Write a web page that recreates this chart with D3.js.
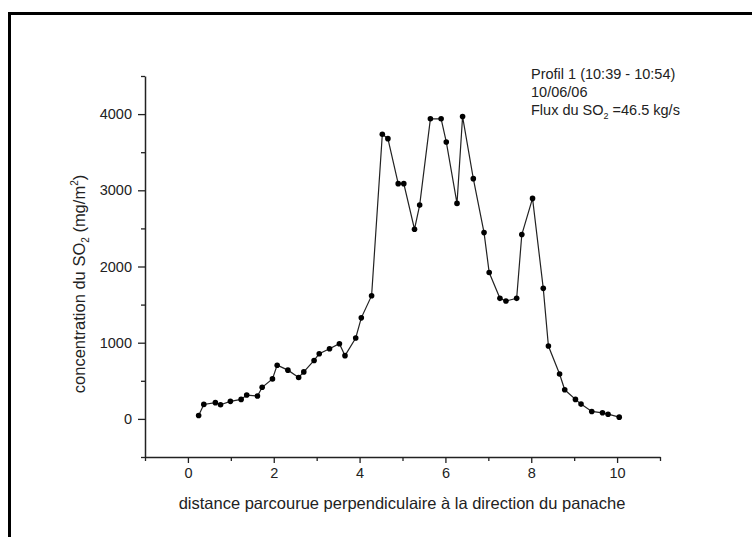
<!DOCTYPE html>
<html>
<head>
<meta charset="utf-8">
<script src="https://cdn.jsdelivr.net/npm/d3@7"></script>
<style>
  body { margin: 0; background: #fff; }
  svg { display: block; font-family: "Liberation Sans", Arial, sans-serif; }
</style>
</head>
<body>
<svg id="chart" width="752" height="537"></svg>
<script>
// distance (x) and SO2 concentration (y)
const distance = [
  0.25, 0.37, 0.64, 0.76, 0.99, 1.24, 1.37, 1.62, 1.73, 1.97,
  2.08, 2.33, 2.58, 2.70, 2.94, 3.06, 3.30, 3.53, 3.66, 3.91,
  4.04, 4.28, 4.53, 4.66, 4.90, 5.03, 5.28, 5.40, 5.65, 5.90,
  6.02, 6.27, 6.40, 6.65, 6.90, 7.02, 7.27, 7.41, 7.66, 7.78,
  8.03, 8.28, 8.40, 8.66, 8.78, 9.03, 9.16, 9.41, 9.66, 9.79,
  10.05
];
const concentration = [
  45, 190, 213, 186, 230, 256, 313, 300, 415, 525,
  705, 640, 543, 617, 767, 855, 921, 987, 830, 1062,
  1326, 1617, 3735, 3678, 3087, 3087, 2489, 2806, 3938, 3938,
  3634, 2828, 3968, 3153, 2445, 1921, 1582, 1547, 1582, 2419,
  2894, 1713, 956, 590, 382, 256, 194, 98, 80, 62,
  23
];
const xTicks = [0, 2, 4, 6, 8, 10];
const xMinor = [-1, 1, 3, 5, 7, 9, 11];
const yTicks = [0, 1000, 2000, 3000, 4000];
const yMinor = [-500, 500, 1500, 2500, 3500, 4500];
const notes = ["Profil 1 (10:39 - 10:54)", "10/06/06"];

const svg = d3.select("#chart");

// outer frame
svg.append("rect")
  .attr("x", 9.5).attr("y", 13.5)
  .attr("width", 800).attr("height", 600)
  .attr("fill", "none").attr("stroke", "#000").attr("stroke-width", 3);

const x = d3.scaleLinear().domain([-1, 11]).range([145, 660]);
const y = d3.scaleLinear().domain([-500, 4500]).range([457, 76]);

const ink = "#222";

svg.append("g")
  .attr("transform", "translate(0,457)")
  .call(d3.axisBottom(x).tickValues(xTicks).tickFormat(d3.format("d"))
    .tickSize(6).tickPadding(5).tickSizeOuter(0));
svg.append("g")
  .attr("transform", "translate(0,457)")
  .call(d3.axisBottom(x).tickValues(xMinor).tickSize(4).tickFormat("").tickSizeOuter(0))
  .select(".domain").remove();

svg.append("g")
  .attr("transform", "translate(145,0)")
  .call(d3.axisLeft(y).tickValues(yTicks).tickFormat(d3.format("d"))
    .tickSize(7).tickPadding(6).tickSizeOuter(0));
svg.append("g")
  .attr("transform", "translate(145,0)")
  .call(d3.axisLeft(y).tickValues(yMinor).tickSize(4).tickFormat("").tickSizeOuter(0))
  .select(".domain").remove();

svg.selectAll(".domain").attr("stroke", ink).attr("stroke-width", 1.5);
svg.selectAll(".tick line").attr("stroke", ink).attr("stroke-width", 1.3);
svg.selectAll(".tick text")
  .attr("fill", ink).attr("font-size", 14.5)
  .attr("font-family", "Liberation Sans, Arial, sans-serif");

// axis titles
svg.append("text")
  .attr("x", 402).attr("y", 509)
  .attr("text-anchor", "middle")
  .attr("font-size", 16.5).attr("fill", ink)
  .text("distance parcourue perpendiculaire à la direction du panache");

const yt = svg.append("text")
  .attr("transform", "translate(85,284) rotate(-90)")
  .attr("text-anchor", "middle")
  .attr("font-size", 16.5).attr("fill", ink);
yt.append("tspan").text("concentration du SO");
yt.append("tspan").attr("font-size", 10).attr("dy", 4).text("2");
yt.append("tspan").attr("dy", -4).text(" (mg/m");
yt.append("tspan").attr("font-size", 10).attr("dy", -7).text("2");
yt.append("tspan").attr("dy", 7).text(")");

// annotation
const ann = svg.append("g").attr("font-size", 14.5).attr("fill", ink);
ann.selectAll("text.note")
  .data(notes)
  .enter()
  .append("text")
  .attr("class", "note")
  .attr("x", 531)
  .attr("y", (d, i) => 79 + i * 18)
  .text((d) => d);
const flux = ann.append("text").attr("x", 531).attr("y", 115);
flux.append("tspan").text("Flux du SO");
flux.append("tspan").attr("font-size", 9).attr("dy", 4).text("2");
flux.append("tspan").attr("dy", -4).text(" =46.5 kg/s");

// profile line + markers
const pts = distance.map((d, i) => [d, concentration[i]]);
svg.append("path")
  .datum(pts)
  .attr("fill", "none")
  .attr("stroke", "#222")
  .attr("stroke-width", 1.2)
  .attr("d", d3.line().x((d) => x(d[0])).y((d) => y(d[1])));

svg.selectAll("circle.pt")
  .data(pts)
  .enter()
  .append("circle")
  .attr("class", "pt")
  .attr("cx", (d) => x(d[0]))
  .attr("cy", (d) => y(d[1]))
  .attr("r", 2.8)
  .attr("fill", "#000");
</script>
</body>
</html>
